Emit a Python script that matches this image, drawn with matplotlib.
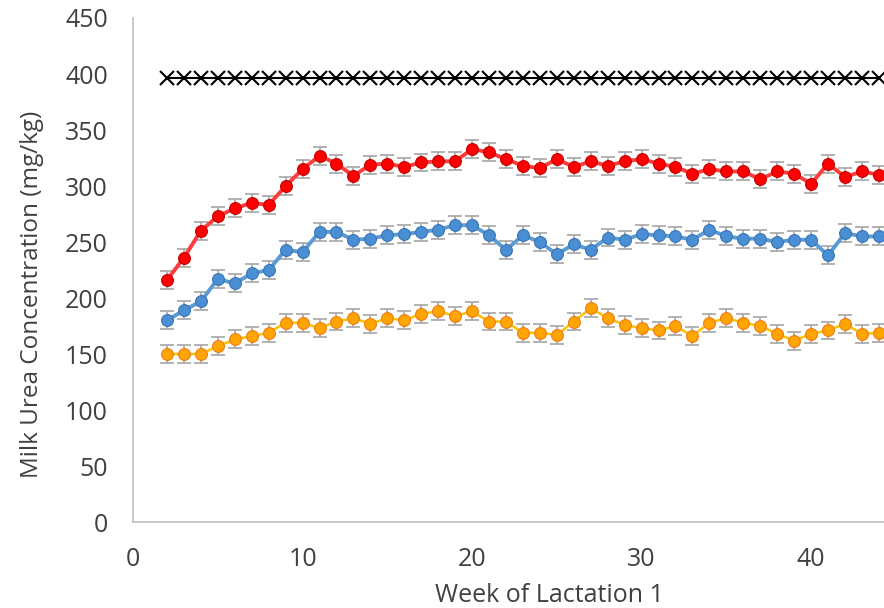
import numpy as np
import matplotlib
matplotlib.use("Agg")
import matplotlib.pyplot as plt

plt.rcParams["font.family"] = ["Open Sans", "DejaVu Sans"]

# ── Data ─────────────────────────────────────────────────────────────────────
weeks = list(range(2, 45))

red = [216, 236, 260, 273, 280, 285, 283, 300, 315, 327, 320, 309, 319, 320,
       317, 321, 322, 322, 333, 330, 324, 318, 316, 324, 317, 322, 318, 322,
       324, 320, 317, 311, 315, 313, 313, 306, 313, 311, 302, 320, 308, 313,
       310]

blue = [180, 189, 197, 217, 213, 222, 225, 243, 241, 259, 259, 252, 253, 256,
        257, 259, 261, 265, 265, 256, 243, 256, 250, 239, 248, 243, 254, 252,
        257, 256, 255, 252, 261, 255, 253, 253, 250, 252, 252, 238, 258, 255,
        255]

orange = [150, 150, 150, 157, 163, 166, 169, 178, 178, 173, 179, 182, 177,
          182, 180, 186, 188, 184, 188, 179, 179, 169, 169, 167, 179, 191, 182,
          176, 173, 171, 175, 166, 178, 182, 178, 175, 168, 162, 168, 171, 177,
          168, 169]

black = [396] * len(weeks)

err = 8

RED_LINE, RED_FACE, RED_EDGE = "#FF3B3B", "#FF0000", "#C00000"
BLUE_LINE, BLUE_FACE, BLUE_EDGE = "#5B9BD5", "#4A8ED4", "#3A74B4"
ORG_LINE, ORG_FACE, ORG_EDGE = "#FFC000", "#FFA500", "#F07A18"
GRAY = "#A6A6A6"
TXT = "#404040"

fig = plt.figure(figsize=(8.84, 6.08), dpi=100)
ax = fig.add_axes([0.1505, 0.1414, 0.8495, 0.829])

series = [
    (orange, ORG_LINE, ORG_FACE, ORG_EDGE, 1.8),
    (blue, BLUE_LINE, BLUE_FACE, BLUE_EDGE, 2.8),
    (red, RED_LINE, RED_FACE, RED_EDGE, 2.8),
]
for vals, lc, fc, ec, lw in series:
    ax.errorbar(weeks, vals, yerr=err, fmt="none", ecolor=GRAY,
                elinewidth=1.2, capsize=5, capthick=1.2, zorder=2)
    ax.plot(weeks, vals, "-o", color=lc, lw=lw, markersize=8.5,
            markerfacecolor=fc, markeredgecolor=ec, markeredgewidth=0.8,
            zorder=3)

ax.plot(weeks, black, "-x", color="black", lw=1.5, markersize=10,
        markeredgewidth=1.5, zorder=4)

ax.set_xlim(0, 44.3)
ax.set_ylim(0, 450)
ax.set_xticks([0, 10, 20, 30, 40])
ax.set_yticks(np.arange(0, 451, 50))

for side in ["top", "right"]:
    ax.spines[side].set_visible(False)
for side in ["left", "bottom"]:
    ax.spines[side].set_color("#BFBFBF")
    ax.spines[side].set_linewidth(1.2)

ax.tick_params(axis="both", length=0, labelsize=18, colors=TXT)
ax.tick_params(axis="x", pad=18)
ax.tick_params(axis="y", pad=18)

ax.set_xlabel("Week of Lactation 1", fontsize=18, color=TXT)
ax.set_ylabel("Milk Urea Concentration (mg/kg)", fontsize=17.5, color=TXT)
# labels sit off-centre in the (cropped) original
ax.xaxis.set_label_coords(0.555, -0.121)
ax.yaxis.set_label_coords(-0.118, 0.452)

fig.savefig("out.png", dpi=100)
